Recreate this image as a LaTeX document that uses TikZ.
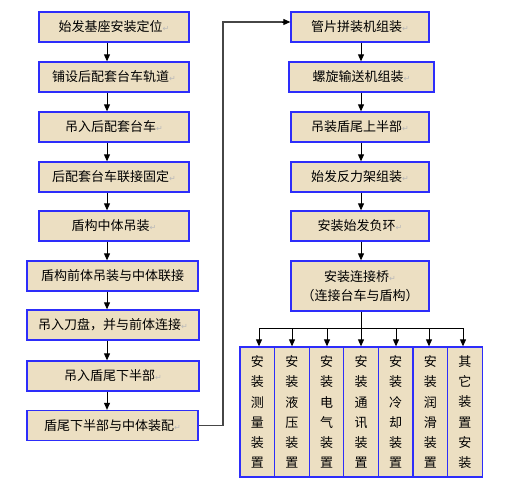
\documentclass[tikz,border=0pt]{standalone}
\usepackage{fontspec}
\setmainfont{Noto Sans CJK SC}
\newfontfamily\symfont{DejaVu Sans}
\usetikzlibrary{arrows.meta,calc}
\definecolor{parch}{RGB}{236,223,194}
\definecolor{bblue}{RGB}{45,45,250}
\definecolor{connc}{RGB}{70,70,70}
\newcommand{\retmark}{{\symfont\color{gray!55}\fontsize{8}{8}\selectfont ↵}}
\begin{document}
\begin{tikzpicture}[x=1pt,y=-1pt,
  box/.style={draw=bblue, line width=1.3pt, fill=parch, minimum height=30pt,
    inner sep=0pt, font=\fontsize{13}{19}\selectfont, align=center},
  vbox/.style={box, minimum width=34.6pt, minimum height=130pt, font=\fontsize{13}{20.2}\selectfont},
  arr/.style={draw=black, line width=0.9pt, -{Triangle[width=6pt,length=7pt]}},
  conn/.style={draw=connc, line width=1.3pt},
  bus/.style={draw=black, line width=0.9pt}]
\useasboundingbox (0,0) rectangle (505,484);
% left column
\node[box, minimum width=150pt] (L1) at (114,27) {始发基座安装定位\retmark};
\node[box, minimum width=150pt] (L2) at (114,77) {铺设后配套台车轨道\retmark};
\node[box, minimum width=150pt] (L3) at (114,127) {吊入后配套台车\retmark};
\node[box, minimum width=150pt] (L4) at (114,177) {后配套台车联接固定\retmark};
\node[box, minimum width=150pt] (L5) at (114,226) {盾构中体吊装\retmark};
\node[box, minimum width=171pt] (L6) at (112.5,276) {盾构前体吊装与中体联接};
\node[box, minimum width=172pt] (L7) at (113,325) {吊入刀盘，并与前体连接\retmark};
\node[box, minimum width=172pt] (L8) at (113,376) {吊入盾尾下半部\retmark};
\node[box, minimum width=171pt] (L9) at (112.5,425.5) {盾尾下半部与中体装配\retmark};
\coordinate (ax) at (107,0);
\foreach \a/\b in {L1/L2,L2/L3,L3/L4,L4/L5,L5/L6,L6/L7,L7/L8,L8/L9}
  \draw[arr] (\a.south -| ax) -- (\b.north -| ax);
% right column
\node[box, minimum width=138pt] (R1) at (360,27) {管片拼装机组装\retmark};
\node[box, minimum width=145pt] (R2) at (361.5,77) {螺旋输送机组装\retmark};
\node[box, minimum width=138pt] (R3) at (360,127) {吊装盾尾上半部\retmark};
\node[box, minimum width=138pt] (R4) at (360,177) {始发反力架组装\retmark};
\node[box, minimum width=138pt] (R5) at (360,226) {安装始发负环\retmark};
\node[box, minimum width=138pt, minimum height=50pt] (R6) at (360,286) {安装连接桥\retmark\\（连接台车与盾构）};
\coordinate (ay) at (361,0);
\foreach \a/\b in {R1/R2,R2/R3,R3/R4,R4/R5,R5/R6}
  \draw[arr] (\a.south -| ay) -- (\b.north -| ay);
% link from left to right
\coordinate (turn) at (223,22);
\draw[conn] (L9.east) -| (turn) -- ($(turn -| R1.west)+(-6,0)$);
\draw[arr] ($(turn -| R1.west)+(-8,0)$) -- (turn -| R1.west);
% bottom boxes
\node[vbox] (B1) at (257.3,412) {安\\装\\测\\量\\装\\置};
\node[vbox] (B2) at (291.9,412) {安\\装\\液\\压\\装\\置};
\node[vbox] (B3) at (326.5,412) {安\\装\\电\\气\\装\\置};
\node[vbox] (B4) at (361.1,412) {安\\装\\通\\讯\\装\\置};
\node[vbox] (B5) at (395.7,412) {安\\装\\冷\\却\\装\\置};
\node[vbox] (B6) at (430.3,412) {安\\装\\润\\滑\\装\\置};
\node[vbox] (B7) at (464.9,412) {其\\它\\装\\置\\安\\装};
\coordinate (busL) at (259,328);
\coordinate (busR) at (463,328);
\draw[bus] (R6.south -| ay) -- (ay |- busL);
\draw[bus] (busL) -- (busR);
\foreach \b/\x in {B1/259,B2/292,B3/327,B4/361,B5/396,B6/429,B7/463}
  \draw[arr] (\x,328) -- (\b.north -| \x,0);
\end{tikzpicture}
\end{document}
